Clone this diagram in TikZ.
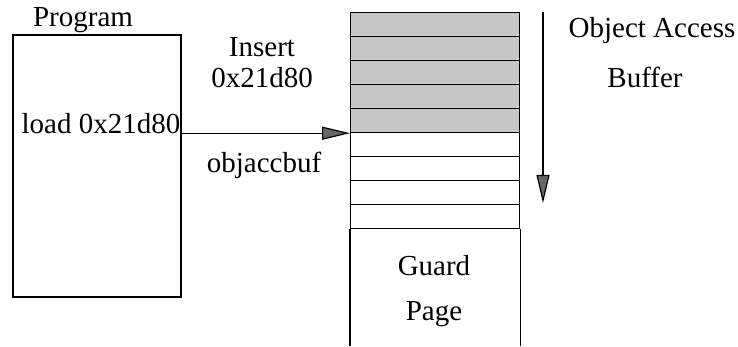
\documentclass[tikz,border=0pt]{standalone}
\usepackage{fontspec}
\setmainfont{Liberation Serif}
\usetikzlibrary{positioning,arrows.meta}

\begin{document}
\begin{tikzpicture}[
    x=0.5pt, y=-0.5pt,
    line width=0.6pt,
    every node/.style={font=\fontsize{14.5}{17}\selectfont, inner sep=0pt},
    slot/.style={draw, minimum width=84.5pt, minimum height=12pt, anchor=north west},
    full/.style={slot, fill=gray!45},
    ptr/.style={-{Triangle[length=14pt, width=6.5pt, fill=black!60]}}
]
\useasboundingbox (0,0) rectangle (738,347);

% program side
\node[draw, minimum width=84pt, minimum height=131pt] (prog) at (97,166) {};
\node (progname) at (83,20) {Program};
\node[anchor=base west] (load) at (21,134) {load 0x21d80};

% buffer slots, used ones shaded
\foreach \i in {0,...,4}
    \node[full] (row\i) at (350,12+24*\i) {};
\foreach \i in {5,...,8}
    \node[slot] (row\i) at (350,12+24*\i) {};

% guard page below the buffer
\draw (row8.south west) -- ++(0,117);
\draw (row8.south east) -- ++(0,117);
\node (guard) at (434,266) {Guard};
\node (page) at (434,314) {Page};

% insert arrow
\draw[ptr] (prog.east |- row4.south west) -- (row4.south west);
\node (ins) at (262,47) {Insert};
\node (addr) at (262,78) {0x21d80};
\node (bufname) at (264,165) {objaccbuf};

% fill direction
\coordinate (dtop) at (543,12);
\coordinate (dbot) at (543,203);
\draw[ptr] (dtop) -- (dbot);
\node (oab) at (652,31) {Object Access};
\node (oabuf) at (645,77) {Buffer};
\end{tikzpicture}
\end{document}
